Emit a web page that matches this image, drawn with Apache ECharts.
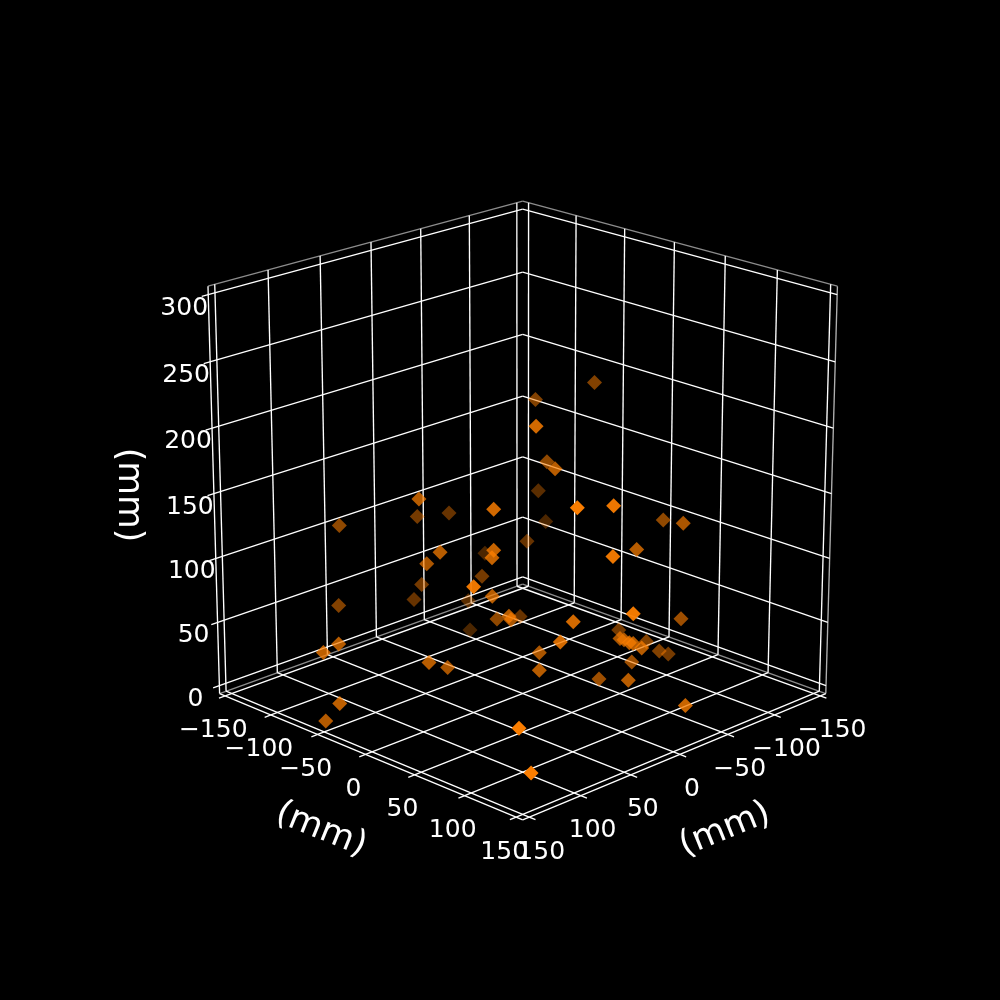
<!DOCTYPE html>
<html><head><meta charset="utf-8">
<style>html,body{margin:0;background:#000}#c{width:1000px;height:1000px}</style>
<script src="https://cdn.jsdelivr.net/npm/echarts@6/dist/echarts.min.js"></script></head>
<body><div id="c"></div>
<script>
var xTicks=[-150,-100,-50,0,50,100,150];
var yTicks=[-150,-100,-50,0,50,100,150];
var zTicks=[0,50,100,150,200,250,300];
var unitLabel='(mm)';
var xVals=[71.5,67.2,2.4,-28.6,59.5,-64.4,65.8,60.8,-68.1,52.5,54.6,-20.6,12.3,5.4,110.3,47.2,-36.7,72.6,7.1,42.3,27.9,
-47.2,-47.8,132.6,148.8,90.4,68.3,148.5,149.8,-93.7,60.9,28.5,-106.2,-95.9,-76.1,-33.4,37.4,41.9,-72.9,39.3,-82.2,-24.0,
-25.8,-13.6,-15.4,-18.9,-80.0,-85.1,-103.7,49.2,19.3,-40.2,36.4,-20.5,-6.6,-12.5,-99.5,-65.9,24.4,-46.4,-6.4,125.8,127.4];
var yVals=[-116.9,-37.0,-107.5,-106.0,30.8,-59.9,-17.2,-36.3,-108.3,23.6,24.0,-63.0,-93.0,-108.7,62.5,16.6,-94.2,-117.8,-19.3,28.5,16.0,
-50.0,-104.0,-52.2,-50.6,-3.7,-7.6,-34.6,-48.3,-77.2,113.7,117.1,-81.7,48.5,86.4,81.1,125.3,149.3,88.5,89.3,17.9,74.5,
76.7,93.5,95.6,100.6,47.9,56.2,48.0,86.4,36.1,71.0,53.1,57.3,99.5,149.3,-25.2,-52.7,37.6,-21.5,26.1,122.2,135.5];
var zVals=[113.5,153.7,105.0,100.0,161.5,80.1,117.9,102.5,56.5,126.8,121.8,63.3,57.5,39.2,125.7,88.4,30.5,50.7,49.2,74.8,64.6,
27.3,0.7,56.2,54.8,43.7,32.2,20.1,2.7,108.4,184.7,178.6,79.1,117.4,129.9,119.7,145.5,110.8,57.4,87.1,25.7,51.8,
51.1,57.1,56.5,53.5,25.7,19.2,9.0,73.6,42.3,27.8,38.6,16.3,31.9,25.5,205.2,193.4,216.5,157.4,174.1,42.0,13.0];

var E=20*Math.PI/180, D=10, A=0.55, L=156.25, CX=522.7, CY=493.7, KX=397, KY=394, sinE=Math.sin(E), cosE=Math.cos(E);
var Z0=-6.25, Z1=306.25;
function proj(x,y,z){var px=x/L*A,py=y/L*A,pz=(z-150)/L*A,h=(px+py)/Math.SQRT2,u=(py-px)/Math.SQRT2;
 var d=cosE*h+sinE*pz,v=-sinE*h+cosE*pz,S=D/(D-d);return [CX+KX*u*S,CY-KY*v*S,d];}
var pts=xVals.map(function(x,i){return proj(x,yVals[i],zVals[i]);});
var dMin=Math.min.apply(null,pts.map(function(p){return p[2];})), dMax=Math.max.apply(null,pts.map(function(p){return p[2];}));
var order=pts.map(function(p,i){return i;}).sort(function(a,b){return pts[a][2]-pts[b][2];});
var LW=1.35, W='#ffffff', G='#8c8c8c';
var segs=[];
function seg(a,b,c){segs.push({a:a,b:b,c:c});}
seg([L,-L,Z1],[-L,-L,Z1],G);seg([-L,-L,Z1],[-L,L,Z1],G);seg([L,-L,Z0],[-L,-L,Z0],G);seg([-L,-L,Z0],[-L,L,Z0],G);
seg([-L,L,Z0],[-L,L,Z1],'#b0b0b0');
xTicks.forEach(function(x){seg([x,L,Z0],[x,-L,Z0],W);seg([x,-L,Z0],[x,-L,Z1],W);seg([x,L,Z0],[x,L+6,Z0],W);});
yTicks.forEach(function(y){seg([L,y,Z0],[-L,y,Z0],W);seg([-L,y,Z0],[-L,y,Z1],W);seg([L,y,Z0],[L+6,y,Z0],W);});
zTicks.forEach(function(z){seg([L+6,-L,z],[-L,-L,z],W);seg([-L,-L,z],[-L,L,z],W);});
seg([L,-L,Z0],[L,L,Z0],W);seg([L,L,Z0],[-L,L,Z0],W);seg([L,-L,Z0],[L,-L,Z1],W);
function tickText(t){return t<0?'\u2212'+(-t):''+t;}
var labels=[];
yTicks.forEach(function(y){var p=proj(L,y,Z0);labels.push([p[0]-12,p[1]+35,tickText(y)]);});
xTicks.forEach(function(x){var p=proj(x,L,Z0);labels.push([p[0]+12,p[1]+35,tickText(x)]);});
zTicks.forEach(function(z){var p=proj(L,-L,z);labels.push([p[0]-24,p[1]+13.5,tickText(z)]);});
var ax=[{v:[321,830],r:-22},{v:[725,830],r:22},{v:[128,495],r:-90}];
var chart=echarts.init(document.getElementById('c'),null,{renderer:'canvas'});
chart.setOption({animation:false,backgroundColor:'#000',
 grid:{left:0,top:0,width:1000,height:1000},
 xAxis:{type:'value',min:0,max:1000,show:false},yAxis:{type:'value',min:0,max:1000,inverse:true,show:false},
 series:[
 {type:'custom',coordinateSystem:'cartesian2d',silent:true,z:2,data:segs.map(function(s,i){return [i];}),renderItem:function(pr,api){var s=segs[api.value(0)],a=proj.apply(null,s.a),b=proj.apply(null,s.b),p1=api.coord([a[0],a[1]]),p2=api.coord([b[0],b[1]]);return {type:'line',shape:{x1:p1[0],y1:p1[1],x2:p2[0],y2:p2[1]},style:{stroke:s.c,lineWidth:LW}};}},
 {type:'custom',coordinateSystem:'cartesian2d',silent:true,z:3,data:order.map(function(i){return [i];}),renderItem:function(pr,api){var s=pts[api.value(0)],c=api.coord([s[0],s[1]]),R=7.5,al=.3+.7*(s[2]-dMin)/(dMax-dMin);return {type:'polygon',shape:{points:[[c[0],c[1]-R],[c[0]+R,c[1]],[c[0],c[1]+R],[c[0]-R,c[1]]]},style:{fill:'#fa7d00',opacity:al}};}},
 {type:'scatter',silent:true,symbolSize:0,z:4,itemStyle:{opacity:1},data:labels.map(function(l){return {value:[l[0],l[1]],label:{show:true,position:'inside',formatter:l[2],color:'#fff',fontFamily:'DejaVu Sans',fontSize:25}};})},
 {type:'scatter',silent:true,symbolSize:0,z:4,itemStyle:{opacity:1},data:ax.map(function(l){return {value:l.v,label:{show:true,position:'inside',rotate:l.r,formatter:unitLabel,color:'#fff',fontFamily:'DejaVu Sans',fontSize:34.7}};})}
 ]});
</script></body></html>
